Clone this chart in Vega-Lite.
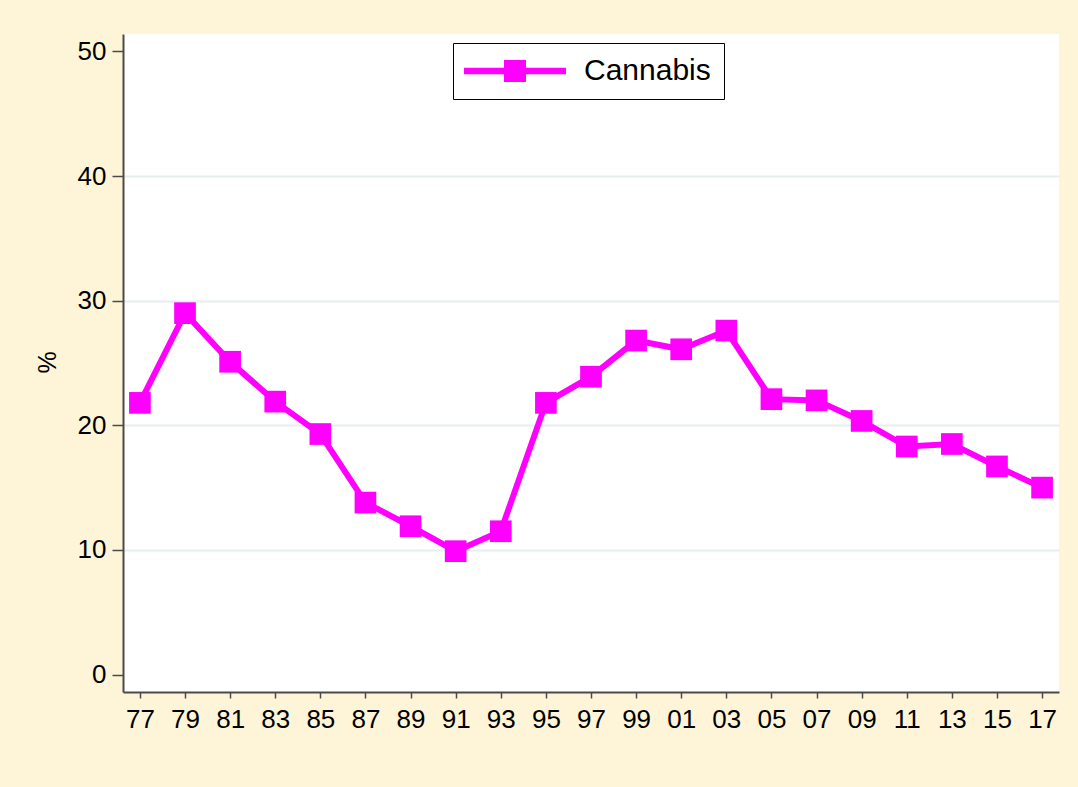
{
  "$schema": "https://vega.github.io/schema/vega-lite/v6.json",
  "width": 936,
  "height": 658,
  "autosize": "none",
  "padding": {"left": 123, "top": 34, "right": 19, "bottom": 95},
  "background": "#FEF5D8",
  "config": {
    "view": {"fill": "white", "stroke": null},
    "font": "Liberation Sans, Arial"
  },
  "data": {"values": [
    {"year": 1977, "pct": 21.8, "series": "Cannabis"},
    {"year": 1979, "pct": 29.0, "series": "Cannabis"},
    {"year": 1981, "pct": 25.1, "series": "Cannabis"},
    {"year": 1983, "pct": 21.9, "series": "Cannabis"},
    {"year": 1985, "pct": 19.3, "series": "Cannabis"},
    {"year": 1987, "pct": 13.8, "series": "Cannabis"},
    {"year": 1989, "pct": 11.9, "series": "Cannabis"},
    {"year": 1991, "pct": 9.9, "series": "Cannabis"},
    {"year": 1993, "pct": 11.5, "series": "Cannabis"},
    {"year": 1995, "pct": 21.8, "series": "Cannabis"},
    {"year": 1997, "pct": 23.9, "series": "Cannabis"},
    {"year": 1999, "pct": 26.8, "series": "Cannabis"},
    {"year": 2001, "pct": 26.1, "series": "Cannabis"},
    {"year": 2003, "pct": 27.6, "series": "Cannabis"},
    {"year": 2005, "pct": 22.1, "series": "Cannabis"},
    {"year": 2007, "pct": 22.0, "series": "Cannabis"},
    {"year": 2009, "pct": 20.35, "series": "Cannabis"},
    {"year": 2011, "pct": 18.3, "series": "Cannabis"},
    {"year": 2013, "pct": 18.5, "series": "Cannabis"},
    {"year": 2015, "pct": 16.7, "series": "Cannabis"},
    {"year": 2017, "pct": 15.0, "series": "Cannabis"}
  ]},
  "encoding": {
    "x": {
      "field": "year", "type": "quantitative",
      "scale": {"domain": [1976.25, 2017.75], "nice": false, "zero": false},
      "axis": {
        "title": null,
        "values": [1977,1979,1981,1983,1985,1987,1989,1991,1993,1995,1997,1999,2001,2003,2005,2007,2009,2011,2013,2015,2017],
        "labelExpr": "(datum.value % 100 < 10 ? '0' : '') + (datum.value % 100)",
        "grid": false,
        "domainColor": "#4a4a4a", "domainWidth": 2,
        "tickColor": "#4a4a4a", "tickWidth": 1.5, "tickSize": 6,
        "labelFontSize": 26, "labelColor": "#000", "labelPadding": 8,
        "labelFlush": false, "labelOverlap": false
      }
    },
    "y": {
      "field": "pct", "type": "quantitative",
      "scale": {"domain": [-1.4, 51.4], "nice": false, "zero": false},
      "axis": {
        "title": "%",
        "values": [0, 10, 20, 30, 40, 50],
        "grid": true,
        "gridColor": {"condition": {"test": "datum.value == 0 || datum.value == 50", "value": "transparent"}, "value": "#E6EEF0"},
        "gridWidth": 2,
        "domainColor": "#4a4a4a", "domainWidth": 2,
        "tickColor": "#4a4a4a", "tickWidth": 1.5, "tickSize": 11,
        "labelFontSize": 26, "labelColor": "#000", "labelPadding": 6,
        "labelFlush": false,
        "titleFontSize": 25, "titleFontWeight": "normal", "titleColor": "#000",
        "titleAngle": 270, "titleX": -76, "titleY": 328,
        "titleAlign": "center", "titleBaseline": "middle"
      }
    }
  },
  "layer": [
    {
      "mark": {"type": "line", "color": "#FF00FF", "strokeWidth": 6}
    },
    {
      "mark": {"type": "point", "shape": "square", "filled": true, "size": 470, "opacity": 1},
      "encoding": {
        "color": {
          "field": "series", "type": "nominal",
          "scale": {"range": ["#FF00FF"]},
          "legend": {
            "title": null,
            "orient": "none",
            "legendX": 330,
            "legendY": 9,
            "padding": 13,
            "fillColor": "white",
            "strokeColor": "black",
            "symbolType": "M-1.545,-0.3H7.725V0.3H-1.545Z M2.09,-1H4.09V1H2.09Z",
            "symbolSize": 484,
            "symbolStrokeWidth": 0,
            "symbolFillColor": "#FF00FF",
            "symbolOpacity": 1,
            "labelFontSize": 30,
            "labelColor": "#000",
            "labelOffset": 88
          }
        }
      }
    }
  ]
}
